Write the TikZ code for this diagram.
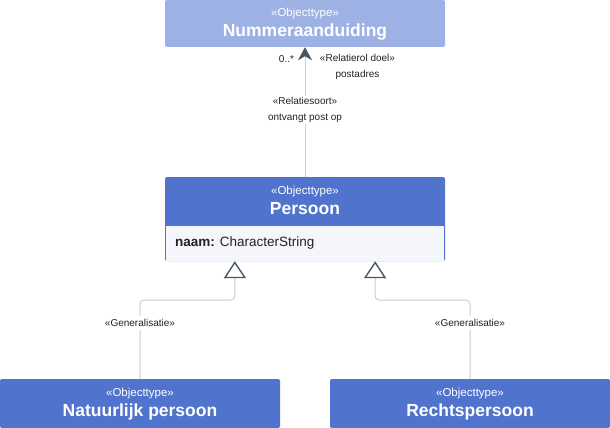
\documentclass[tikz,border=0pt]{standalone}
\usepackage{fontspec}
\setmainfont{Liberation Sans}
\usetikzlibrary{%
  arrows.meta,%
  positioning,%
  calc%
}
\definecolor{clsdark}{HTML}{5073CD}
\definecolor{clslight}{HTML}{9EB1E4}
\definecolor{attrfill}{HTML}{F5F6FB}
\definecolor{linegray}{HTML}{CCCCCC}
\definecolor{tipgray}{HTML}{4A5568}
\definecolor{txtdark}{HTML}{222222}
\newcommand{\stereotype}{{\fontsize{11.5}{14}\selectfont «Objecttype»}}
\tikzset{
  classbox/.style={rectangle, rounded corners=2pt, minimum width=280pt,
    minimum height=48pt, inner sep=0pt, align=center, text=white},
  classtitle/.style={text=white, align=center, inner sep=0pt,
    font=\fontsize{17.5}{20}\selectfont},
  reltext/.style={font=\fontsize{10}{16}\selectfont, text=txtdark, align=center,
    inner sep=1pt},
  conn/.style={draw=linegray, line width=1pt, rounded corners=4pt},
  gentip/.style={-{Triangle[open, length=17pt, width=22pt, line width=1.4pt, color=tipgray]}}
}

\begin{document}
\begin{tikzpicture}[x=1pt, y=-1pt]
\useasboundingbox (0,0) rectangle (610,428);
% classes
\node [classbox, fill=clslight, minimum height=47pt] (nummer) at (305,23.5) {};
\node [classtitle] (nummertitle) at (305,24.5) {\stereotype\\\bfseries Nummeraanduiding};
\node [classbox, fill=clsdark, minimum height=84pt] (persoonbox) at (305,219) {};
\node [rectangle, fill=attrfill, minimum width=278pt, minimum height=35pt, inner sep=0pt]
  (persoonattr) at (305,243) {};
\node [inner sep=0pt, anchor=west, text=txtdark, font=\fontsize{13.5}{16}\selectfont]
  (naam) at (175,243) {\textbf{naam:} CharacterString};
\node [classtitle] (persoon) at (305,200.5) {\stereotype\\\bfseries Persoon};
\node [classbox, fill=clsdark, minimum height=49pt] (natuurlijk) at (140,403.5) {};
\node [classtitle] (natuurlijktitle) at (140,404.5) {\stereotype\\\bfseries Natuurlijk persoon};
\node [classbox, fill=clsdark, minimum height=49pt] (rechts) at (470,403.5) {};
\node [classtitle] (rechtstitle) at (470,404.5) {\stereotype\\\bfseries Rechtspersoon};

% association
\draw [conn, -{Stealth[length=13pt, width=14pt, inset=4pt, color=tipgray]}]
  (persoonbox.north) -- (nummer.south);
\node [reltext, fill=white] (relsoort) at (305,110) {«Relatiesoort»\\ontvangt post op};
\node [reltext] (mult) at (286.5,59) {0..*};
\node [reltext] (rolnaam) at (357.5,66.5) {«Relatierol doel»\\postadres};

% generalisations
\coordinate (genL) at ($(persoonbox.south west)+(70,0)$);
\coordinate (genR) at ($(persoonbox.south east)+(-70,0)$);
\draw [conn, gentip] (natuurlijk.north) -- (140,300) -- (235,300) -- (genL);
\draw [conn, gentip] (rechts.north) -- (470,300) -- (375,300) -- (genR);
\node [reltext, fill=white, inner sep=3pt] (genlabelL) at (140,323) {«Generalisatie»};
\node [reltext, fill=white, inner sep=3pt] (genlabelR) at (470,323) {«Generalisatie»};
\end{tikzpicture}
\end{document}
